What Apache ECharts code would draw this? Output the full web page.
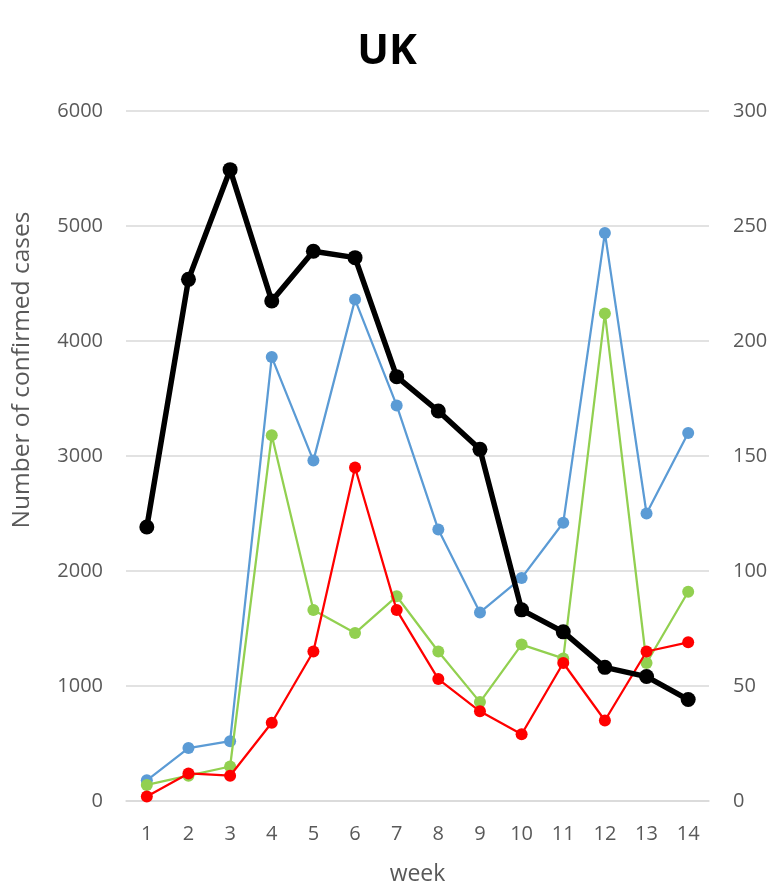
<!DOCTYPE html>
<html>
<head>
<meta charset="utf-8">
<script src="https://cdn.jsdelivr.net/npm/echarts@6/dist/echarts.min.js"></script>
<style>html,body{margin:0;padding:0;background:#fff}#c{width:774px;height:885px}</style>
</head>
<body>
<div id="c"></div>
<script>
const weeks = ['1','2','3','4','5','6','7','8','9','10','11','12','13','14'];
const totalCases = [2383, 4536, 5490, 4348, 4780, 4725, 3690, 3391, 3058, 1662, 1471, 1162, 1082, 882];
const blueSeries = [9, 23, 26, 193, 148, 218, 172, 118, 82, 97, 121, 247, 125, 160];
const greenSeries = [7, 11, 15, 159, 83, 73, 89, 65, 43, 68, 62, 212, 60, 91];
const redSeries = [2, 12, 11, 34, 65, 145, 83, 53, 39, 29, 60, 35, 65, 69];
const leftTicks = [0, 1000, 2000, 3000, 4000, 5000, 6000];
const rightTicks = [0, 50, 100, 150, 200, 250, 300];

const FONT = '"Open Sans", "Noto Sans", sans-serif';
const GRAY = '#595959';
const chart = echarts.init(document.getElementById('c'));

function thinLine(name, data, color, z) {
  return {
    name, type: 'line', yAxisIndex: 1, data, z,
    symbol: 'circle', symbolSize: 12,
    lineStyle: { color, width: 2.25 },
    itemStyle: { color },
    animation: false
  };
}

chart.setOption({
  animation: false,
  backgroundColor: '#fff',
  title: {
    text: 'UK', left: 'center', top: 26,
    textStyle: { fontFamily: FONT, fontSize: 42, fontWeight: 'bold', color: '#000' }
  },
  grid: { left: 126, right: 65, top: 111, bottom: 84, containLabel: false, outerBoundsMode: 'none' },
  graphic: [{
    type: 'text', x: 22, y: 370, rotation: Math.PI / 2,
    style: {
      text: 'Number of confirmed cases', fontFamily: FONT, fontSize: 24.5,
      fill: GRAY, textAlign: 'center', textVerticalAlign: 'middle'
    }
  }],
  xAxis: {
    type: 'category', data: weeks, boundaryGap: true,
    name: 'week', nameLocation: 'middle', nameGap: 62,
    nameTextStyle: { fontFamily: FONT, fontSize: 23, color: GRAY },
    axisLine: { show: true, lineStyle: { color: '#d9d9d9', width: 1.5 } },
    axisTick: { show: false },
    axisLabel: { fontFamily: FONT, fontSize: 20, color: GRAY, margin: 23 }
  },
  yAxis: [{
    type: 'value', min: leftTicks[0], max: leftTicks[leftTicks.length - 1], interval: 1000,
    axisLine: { show: false }, axisTick: { show: false },
    splitLine: { lineStyle: { color: '#d9d9d9', width: 1.5 } },
    axisLabel: { fontFamily: FONT, fontSize: 20, color: GRAY, margin: 23, formatter: v => String(v) }
  }, {
    type: 'value', min: rightTicks[0], max: rightTicks[rightTicks.length - 1], interval: 50,
    position: 'right',
    axisLine: { show: false }, axisTick: { show: false },
    splitLine: { show: false },
    axisLabel: { fontFamily: FONT, fontSize: 20, color: GRAY, margin: 24, formatter: v => String(v) }
  }],
  series: [
    thinLine('blue', blueSeries, '#5B9BD5', 2),
    thinLine('green', greenSeries, '#92D050', 3),
    thinLine('red', redSeries, '#FF0000', 4),
    {
      name: 'total', type: 'line', yAxisIndex: 0, data: totalCases, z: 5,
      symbol: 'circle', symbolSize: 15,
      lineStyle: { color: '#000', width: 5.5 },
      itemStyle: { color: '#000' }
    }
  ]
});
</script>
</body>
</html>
